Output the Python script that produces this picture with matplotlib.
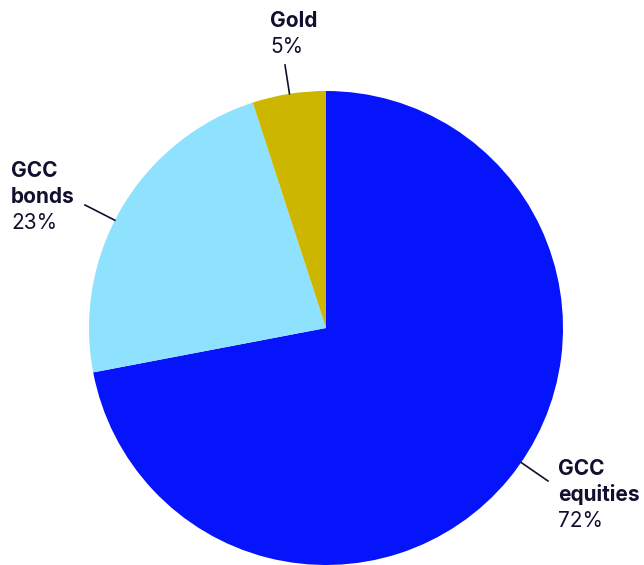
import numpy as np
import matplotlib.pyplot as plt

# Portfolio split
labels = ["GCC\nequities", "GCC\nbonds", "Gold"]
shares = [72, 23, 5]
colors = ["#0514fb", "#8fe2fd", "#ccb600"]

# Label anchors (left x, first baseline y) and connector outer ends, in pixels
label_pos = [(558, 475), (11, 177), (270, 27)]
connector_end = [(548, 481), (85, 205), (285, 65)]

W, H = 644, 565
cx, cy, R = 326, 328, 237
text_color = "#10102e"

fig = plt.figure(figsize=(W / 100, H / 100), dpi=100)
ax = fig.add_axes([0, 0, 1, 1])
wedges, _ = ax.pie(shares, colors=colors, startangle=90, counterclock=False,
                   wedgeprops=dict(linewidth=0))
ax.set_xlim(-cx / R, (W - cx) / R)
ax.set_ylim(-(H - cy) / R, cy / R)
ax.axis("off")


def px(x, y):
    return (x - cx) / R, (cy - y) / R


for name, share, (lx, ly), (ex, ey) in zip(labels, shares, label_pos, connector_end):
    # radial connector from the rim out toward the label
    ox, oy = px(ex, ey)
    ang = np.arctan2(oy, ox)
    ax.plot([np.cos(ang), ox], [np.sin(ang), oy], color=text_color, lw=1.2)
    lines = name.split("\n")
    for i, line in enumerate(lines):
        ax.text(*px(lx, ly + 26 * i), line, fontsize=15, fontweight="bold",
                family="Inter", color=text_color, va="baseline", ha="left")
    ax.text(*px(lx, ly + 26 * len(lines)), f"{share}%", fontsize=15,
            family="Inter", color=text_color, va="baseline", ha="left")

fig.savefig("out.png", dpi=100)
